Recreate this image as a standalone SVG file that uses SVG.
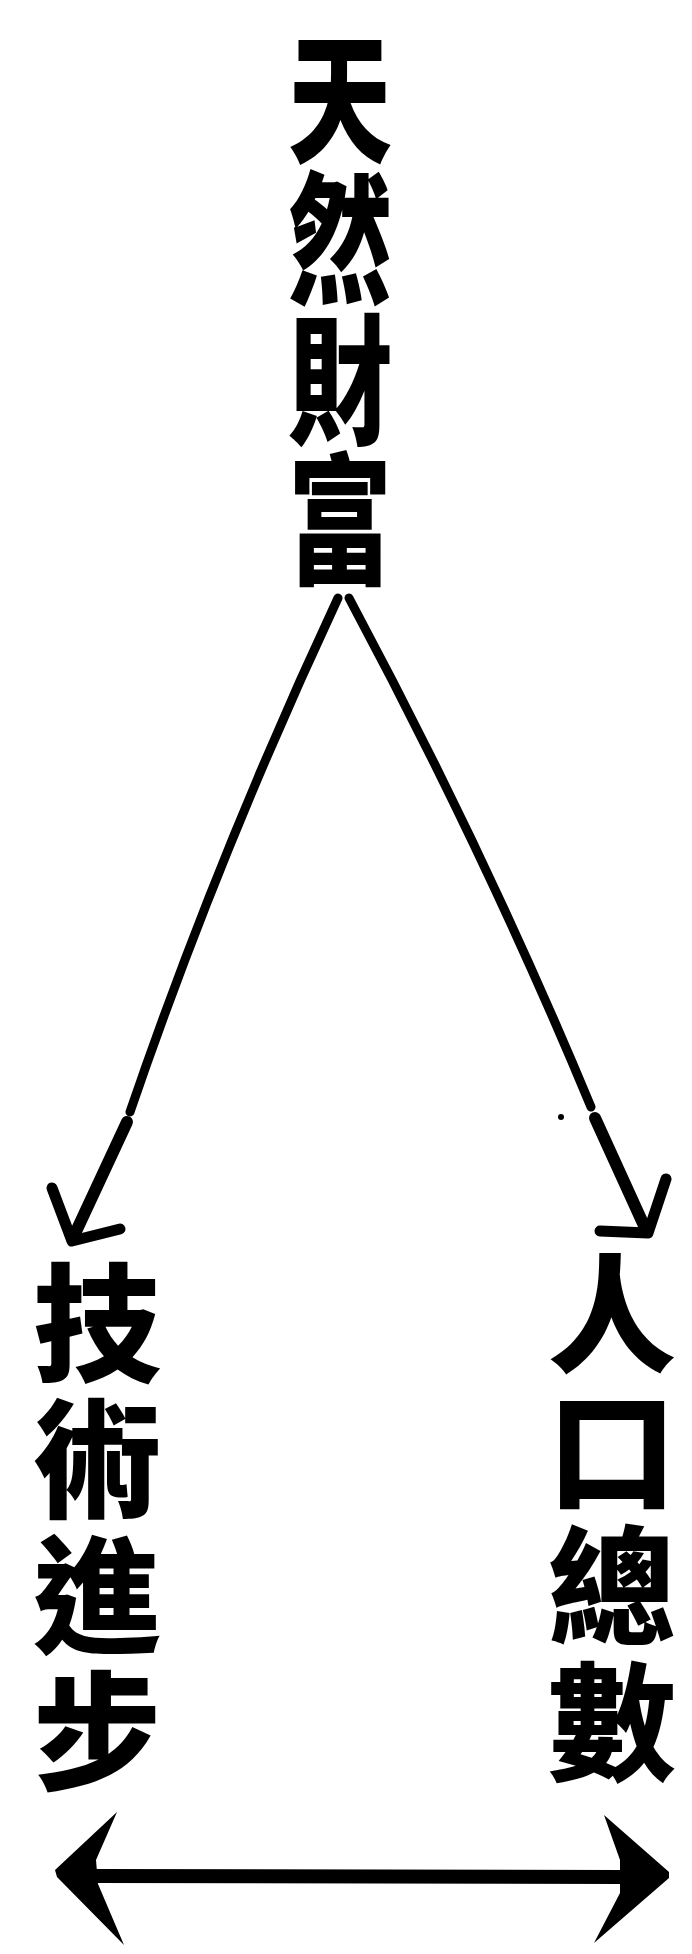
<svg xmlns="http://www.w3.org/2000/svg" width="692" height="1954" viewBox="0 0 692 1954">
<style>
.t{font-family:"Noto Sans CJK TC","Noto Sans CJK SC",sans-serif;font-weight:900;fill:#000;writing-mode:vertical-rl;text-orientation:upright}
.top{font-size:104px}
.bot{font-size:128px}
.ln{fill:none;stroke:#000;stroke-linecap:round;stroke-linejoin:round}
</style>
<rect width="692" height="1954" fill="#fff"/>
<g id="node-tianran">
<text class="t top" transform="translate(340,28) scale(1,1.35)">天</text>
<text class="t top" transform="translate(340,168.5) scale(1,1.35)">然</text>
<text class="t top" transform="translate(340,309) scale(1,1.35)">財</text>
<text class="t top" transform="translate(340,449.5) scale(1,1.35)">富</text>
</g>
<g id="node-jishu">
<text class="t bot" x="97" y="1259">技</text>
<text class="t bot" x="97" y="1395">術</text>
<text class="t bot" x="97" y="1531">進</text>
<text class="t bot" x="97" y="1667">步</text>
</g>
<g id="node-renkou">
<text class="t bot" x="612" y="1250">人</text>
<text class="t bot" x="612" y="1386">口</text>
<text class="t bot" x="612" y="1522">總</text>
<text class="t bot" x="612" y="1658">數</text>
</g>
<g id="connectors">
<path class="ln" stroke-width="9" d="M338,598 Q218,855 130,1112"/>
<path class="ln" stroke-width="12" d="M127,1122 L73,1238"/>
<path class="ln" stroke-width="11" d="M52,1188 L72,1241 L120,1229"/>
<path class="ln" stroke-width="9" d="M349,598 Q486,854 591,1107"/>
<path class="ln" stroke-width="12" d="M595,1118 L646,1230"/>
<path class="ln" stroke-width="11" d="M666,1179 L648,1233 L600,1231"/>
<circle cx="561" cy="1117" r="3"/>
<path class="ln" stroke-width="14" stroke-linecap="butt" d="M95,1876 L624,1877"/>
<polygon points="117,1812 55,1870 57,1877 124,1945 98,1884 96,1860"/>
<polygon points="604,1815 669,1872 669,1878 594,1943 620,1893 620,1860"/>
</g>
</svg>
